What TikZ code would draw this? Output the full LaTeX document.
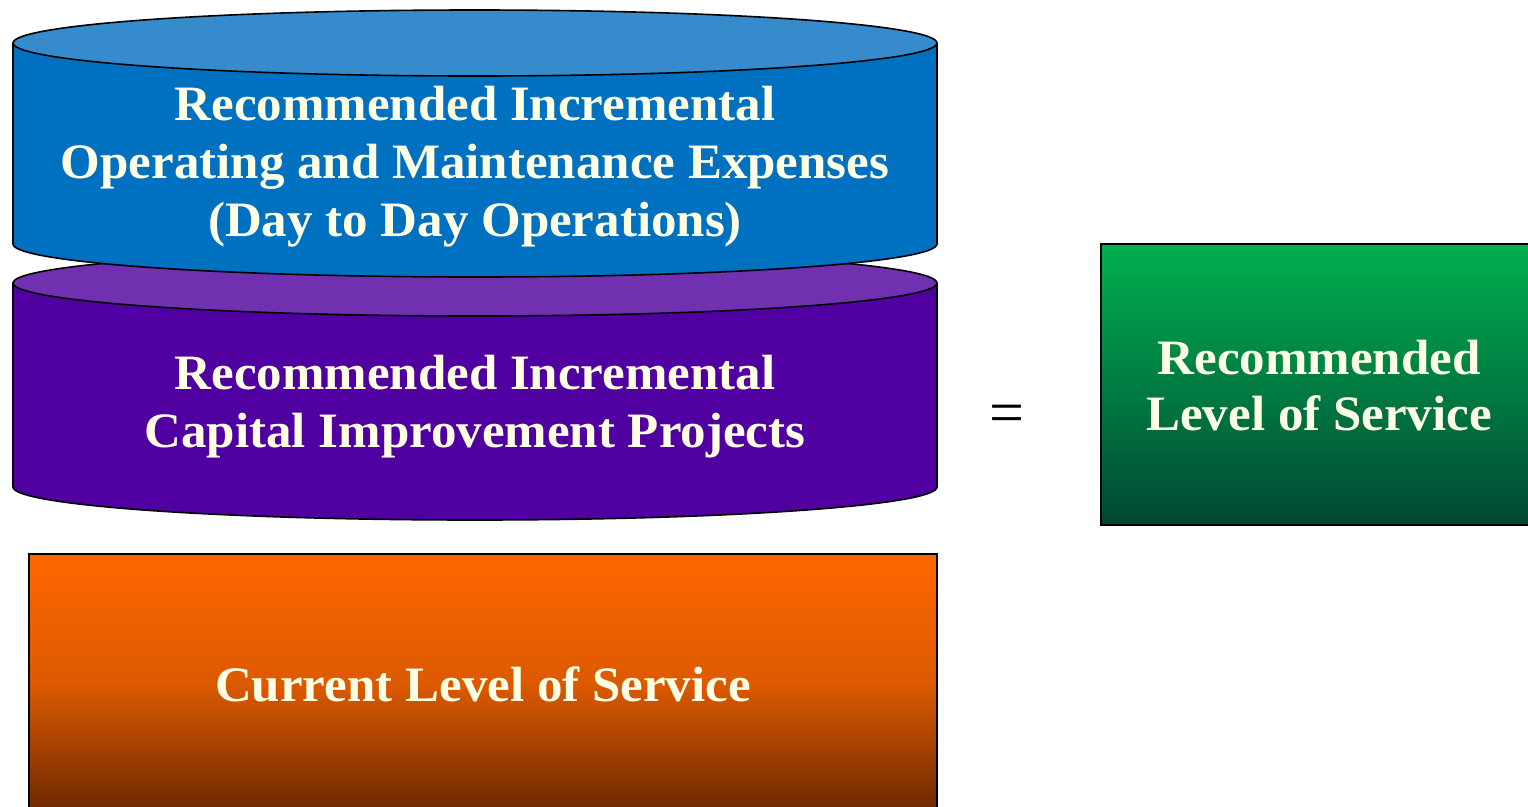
\documentclass[tikz,border=0pt]{standalone}
\usepackage{fontspec}
\setmainfont{Liberation Serif}
\newfontfamily\lblfont[FakeStretch=1.03]{Liberation Serif}
\definecolor{bluebody}{RGB}{0,112,192}
\definecolor{bluetop}{RGB}{54,139,205}
\definecolor{purplebody}{RGB}{80,0,160}
\definecolor{purpletop}{RGB}{113,48,175}
\definecolor{cream}{RGB}{255,255,230}
\definecolor{orangetop}{RGB}{255,102,0}
\definecolor{orangemid}{RGB}{220,90,0}
\definecolor{orangebot}{RGB}{108,40,0}
\definecolor{greentop}{RGB}{0,176,80}
\definecolor{greenbot}{RGB}{0,72,52}
\tikzset{
  outline/.style={draw=black, line width=1.6pt},
  lbl/.style={text=cream, align=center, font=\lblfont\bfseries\fontsize{49.5}{58}\selectfont, inner sep=0pt},
}
\begin{document}
\begin{tikzpicture}[x=1pt,y=-1pt]
\useasboundingbox (0,0) rectangle (1528,806);
\clip (0,0) rectangle (1528,806);
% purple cylinder
\fill[purplebody] (13,283) -- (13,487) arc[start angle=180,end angle=0,x radius=462,y radius=33] -- (937,283) -- cycle;
\draw[outline] (13,283) -- (13,487) arc[start angle=180,end angle=0,x radius=462,y radius=33] -- (937,283);
\draw[outline, fill=purpletop] (475,283) ellipse[x radius=462, y radius=33];
% blue cylinder
\fill[bluebody] (13,43) -- (13,244) arc[start angle=180,end angle=0,x radius=462,y radius=33] -- (937,43) -- cycle;
\draw[outline] (13,43) -- (13,244) arc[start angle=180,end angle=0,x radius=462,y radius=33] -- (937,43);
\draw[outline, fill=bluetop] (475,43) ellipse[x radius=462, y radius=33];
% text
\node[lbl] (om) at (475,167) {Recommended Incremental\\Operating and Maintenance Expenses\\(Day to Day Operations)};
\node[lbl] (cip) at (475,407) {Recommended Incremental\\Capital Improvement Projects};
% orange box
\draw[outline, top color=orangetop, bottom color=orangebot, middle color=orangemid] (29,554) rectangle (937,812);
\node[lbl] (cur) at (483,684) {Current Level of Service};
% equals
\node[font=\fontsize{62}{62}\selectfont, inner sep=0pt] (eq) at (1007,419) {=};
% green box
\draw[outline, top color=greentop, bottom color=greenbot] (1101,244) rectangle (1540,525);
\node[lbl, font=\lblfont\bfseries\fontsize{49.5}{56}\selectfont] (rec) at (1319,386) {Recommended\\Level of Service};
\end{tikzpicture}
\end{document}
